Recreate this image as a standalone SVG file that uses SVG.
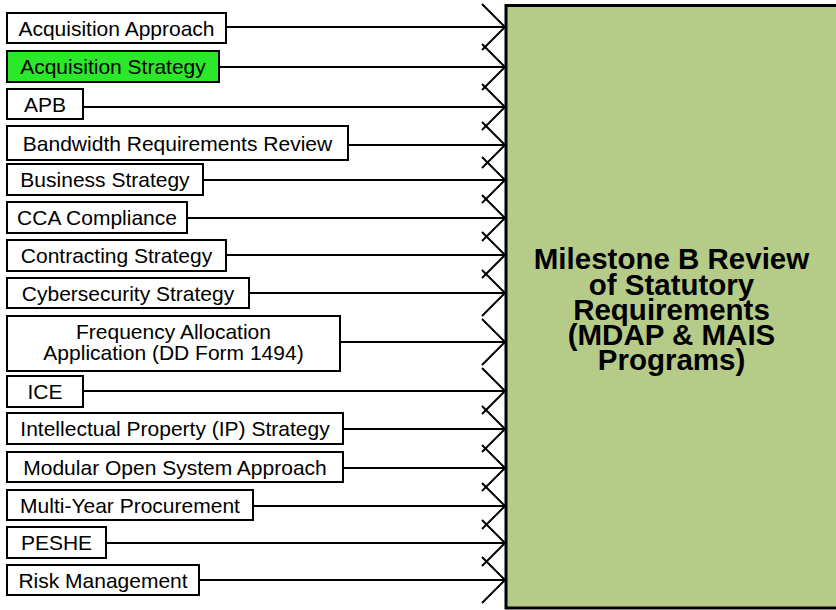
<svg xmlns="http://www.w3.org/2000/svg" width="836" height="610" viewBox="0 0 836 610">
<style>
.box{fill:#ffffff;stroke:#000000;stroke-width:2}
.hl{fill:#2BE82B}
.lbl{font-family:"Liberation Sans",Arial,sans-serif;font-size:21px;fill:#000;text-anchor:middle}
.main{font-family:"Liberation Sans",Arial,sans-serif;font-size:29.5px;font-weight:bold;fill:#000;text-anchor:middle}
.conn{stroke:#000;stroke-width:2;fill:none;marker-end:url(#arr)}
</style>
<defs>
<marker id="arr" viewBox="-26 -26 28 52" refX="0" refY="0" markerWidth="28" markerHeight="52" markerUnits="userSpaceOnUse" orient="auto">
<path d="M-23,-23 L0,0 L-23,23" fill="none" stroke="#000" stroke-width="2"/>
</marker>
</defs>
<g id="connectors">
<line class="conn" x1="226" y1="27" x2="505" y2="27"/>
<line class="conn" x1="219" y1="67" x2="505" y2="67"/>
<line class="conn" x1="83" y1="107" x2="505" y2="107"/>
<line class="conn" x1="348" y1="145" x2="505" y2="145"/>
<line class="conn" x1="203" y1="180" x2="505" y2="180"/>
<line class="conn" x1="187" y1="218" x2="505" y2="218"/>
<line class="conn" x1="226" y1="255" x2="505" y2="255"/>
<line class="conn" x1="249" y1="293" x2="505" y2="293"/>
<line class="conn" x1="340" y1="342" x2="505" y2="342"/>
<line class="conn" x1="83" y1="391" x2="505" y2="391"/>
<line class="conn" x1="343" y1="429" x2="505" y2="429"/>
<line class="conn" x1="343" y1="468" x2="505" y2="468"/>
<line class="conn" x1="253" y1="506" x2="505" y2="506"/>
<line class="conn" x1="106" y1="543" x2="505" y2="543"/>
<line class="conn" x1="199" y1="580" x2="505" y2="580"/>
</g>
<g id="milestone-b">
<rect x="506" y="5.5" width="340" height="602.5" fill="#B7CB88" stroke="#000" stroke-width="3"/>
<text class="main" x="671.5" y="269">Milestone B Review</text>
<text class="main" x="671.5" y="294.5">of Statutory</text>
<text class="main" x="671.5" y="320">Requirements</text>
<text class="main" x="671.5" y="345">(MDAP &amp; MAIS</text>
<text class="main" x="671.5" y="370">Programs)</text>
</g>
<g id="acquisition-approach"><rect class="box" x="7" y="13" width="219" height="30"/><text class="lbl" x="116.5" y="35.5">Acquisition Approach</text></g>
<g id="acquisition-strategy"><rect class="box hl" x="7" y="51" width="212" height="31"/><text class="lbl" x="113" y="74">Acquisition Strategy</text></g>
<g id="apb"><rect class="box" x="7" y="89" width="76" height="30"/><text class="lbl" x="45" y="111.5">APB</text></g>
<g id="bandwidth"><rect class="box" x="7" y="126" width="341" height="34"/><text class="lbl" x="177.5" y="150.5">Bandwidth Requirements Review</text></g>
<g id="business-strategy"><rect class="box" x="7" y="164" width="196" height="31"/><text class="lbl" x="105" y="187">Business Strategy</text></g>
<g id="cca-compliance"><rect class="box" x="7" y="202" width="180" height="31"/><text class="lbl" x="97" y="225">CCA Compliance</text></g>
<g id="contracting-strategy"><rect class="box" x="7" y="240" width="219" height="31"/><text class="lbl" x="116.5" y="263">Contracting Strategy</text></g>
<g id="cybersecurity-strategy"><rect class="box" x="7" y="278" width="242" height="30"/><text class="lbl" x="128" y="300.5">Cybersecurity Strategy</text></g>
<g id="frequency-allocation"><rect class="box" x="7" y="316" width="333" height="55"/><text class="lbl" x="173.5" y="338.5">Frequency Allocation</text><text class="lbl" x="173.5" y="359.5">Application (DD Form 1494)</text></g>
<g id="ice"><rect class="box" x="7" y="376" width="76" height="31"/><text class="lbl" x="45" y="399">ICE</text></g>
<g id="ip-strategy"><rect class="box" x="7" y="413" width="336" height="31"/><text class="lbl" x="175" y="436">Intellectual Property (IP) Strategy</text></g>
<g id="mosa"><rect class="box" x="7" y="452" width="336" height="30"/><text class="lbl" x="175" y="474.5">Modular Open System Approach</text></g>
<g id="multi-year"><rect class="box" x="7" y="490" width="246" height="30"/><text class="lbl" x="130" y="512.5">Multi-Year Procurement</text></g>
<g id="peshe"><rect class="box" x="7" y="527" width="99" height="31"/><text class="lbl" x="56.5" y="550">PESHE</text></g>
<g id="risk-management"><rect class="box" x="7" y="565" width="192" height="30"/><text class="lbl" x="103" y="587.5">Risk Management</text></g>
</svg>
